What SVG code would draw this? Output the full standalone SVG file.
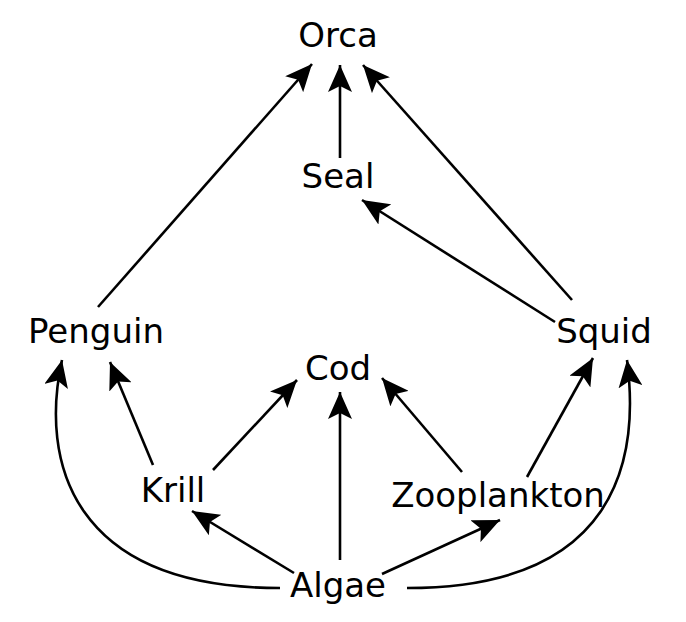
<svg xmlns="http://www.w3.org/2000/svg" width="686" height="622" viewBox="0 0 686 622">
<style>
text{font-family:"DejaVu Sans",sans-serif;font-size:34px;fill:#000;text-anchor:middle}
.e{fill:none;stroke:#000;stroke-width:2.6;marker-end:url(#ah)}
</style>
<defs>
<marker id="ah" markerUnits="userSpaceOnUse" markerWidth="30" markerHeight="24" viewBox="0 0 30 24" refX="27" refY="12" orient="auto">
<path d="M0,0 L27,12 L0,24 L6,12 Z" fill="#000"/>
</marker>
</defs>
<rect width="686" height="622" fill="#fff"/>
<g id="edges">
<path class="e" d="M98,307 L312,64"/>
<path class="e" d="M340,158 L340,65"/>
<path class="e" d="M572,300 L363,65"/>
<path class="e" d="M555,322 L362,200"/>
<path class="e" d="M153,465 L110,362"/>
<path class="e" d="M280,588 C70,588 40,460 62,360"/>
<path class="e" d="M213,470 L297,380"/>
<path class="e" d="M340,560 L340,392"/>
<path class="e" d="M462,472 L382,378"/>
<path class="e" d="M527,477 L593,358"/>
<path class="e" d="M407,588 C617,588 640,460 627,360"/>
<path class="e" d="M294,573 L192,511"/>
<path class="e" d="M382,574 L500,520"/>
</g>
<g id="orca"><text x="338" y="47">Orca</text></g>
<g id="seal"><text x="338" y="188">Seal</text></g>
<g id="penguin"><text x="96" y="343">Penguin</text></g>
<g id="squid"><text x="604" y="343">Squid</text></g>
<g id="cod"><text x="338" y="380">Cod</text></g>
<g id="krill"><text x="173" y="502">Krill</text></g>
<g id="zooplankton"><text x="498" y="507">Zooplankton</text></g>
<g id="algae"><text x="338" y="597">Algae</text></g>
</svg>
